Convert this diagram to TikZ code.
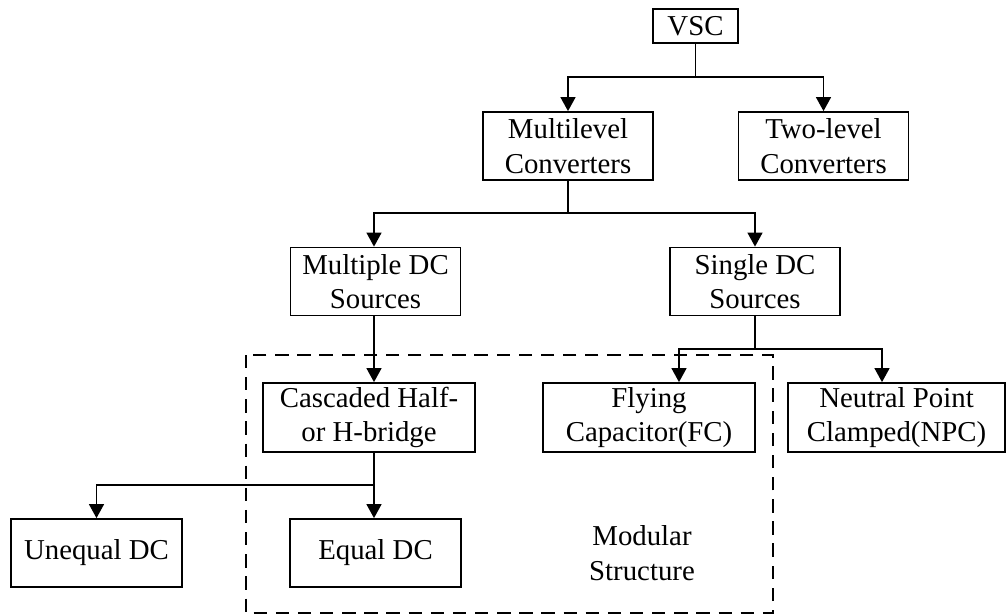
\documentclass[tikz,border=0pt]{standalone}
\usepackage{fontspec}
\setmainfont{Liberation Serif}
\usetikzlibrary{arrows.meta}
\tikzset{
  box/.style={draw,line width=1pt,align=center,inner sep=0pt,minimum width=3.4cm,minimum height=1.36cm},
  arr/.style={-{Triangle[length=8pt,width=8.5pt]}},
  conn/.style={line width=1pt}
}
\begin{document}
\begin{tikzpicture}[x=0.02cm,y=-0.02cm,font=\fontsize{16.4}{19.6}\selectfont]
\useasboundingbox(0,0)rectangle(1006,615);
%boxes
\node[box,minimum width=1.7cm,minimum height=.68cm](vsc)at(695.5,26){VSC};
\node[box](ml)at(568,146){Multilevel\\Converters};
\node[box](tl)at(823.5,146){Two-level\\Converters};
\node[box](mdc)at(375.5,281.5){Multiple DC\\Sources};
\node[box](sdc)at(755,281.5){Single DC\\Sources};
\node[box,minimum width=4.24cm,minimum height=1.38cm](cas)at(369,417.5){Cascaded Half-\\or H-bridge};
\node[box,minimum width=4.24cm,minimum height=1.38cm](fc)at(649,417.5){Flying\\Capacitor(FC)};
\node[box,minimum width=4.34cm,minimum height=1.38cm](npc)at(896.5,417.5){Neutral Point\\Clamped(NPC)};
\node[box,minimum width=3.42cm](uneq)at(96.5,553){Unequal DC};
\node[box,minimum width=3.42cm](eq)at(375.5,553){Equal DC};
\node[align=center](mod)at(642,553){Modular\\Structure};
%modular structure frame
\draw[line width=1pt,dash pattern=on 7.6pt off 5pt](246,355)rectangle(773,613);
%branch points
\coordinate(b1)at(695.5,77);
\coordinate(b2)at(568,213);
\coordinate(b3)at(755,349);
\coordinate(b4)at(374,485);
%connectors
\draw[conn](vsc)--(b1);
\draw[conn,arr](b1)-|(ml);
\draw[conn,arr](b1)-|(tl);
\draw[conn](ml)--(b2);
\draw[conn,arr](b2)-|(mdc.north -| b4);
\draw[conn,arr](b2)-|(sdc);
\draw[conn,arr](mdc.south -| b4)--(b4 |- cas.north);
\draw[conn](sdc)--(b3);
\draw[conn,arr](b3)-|([xshift=6mm]fc.north);
\draw[conn,arr](b3)-|([xshift=-2.9mm]npc.north);
\draw[conn](cas.south -| b4)--(b4);
\draw[conn,arr](b4)-|(uneq);
\draw[conn,arr](b4)--(b4 |- eq.north);
\end{tikzpicture}
\end{document}
